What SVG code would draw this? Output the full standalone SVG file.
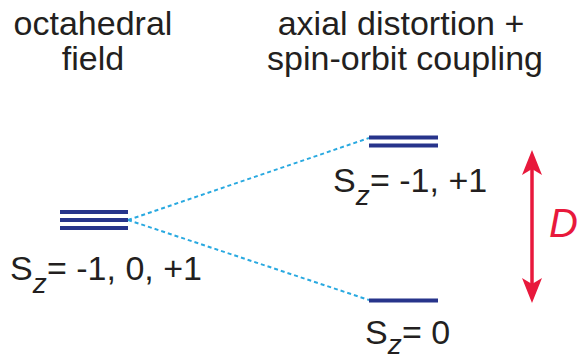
<svg xmlns="http://www.w3.org/2000/svg" width="580" height="361" viewBox="0 0 580 361">
<style>
.t{font-family:"Liberation Sans",Arial,sans-serif;font-size:34px;fill:#231f20}
.lvl{stroke:#27348b;stroke-width:4;fill:none}
.dash{stroke:#29a9e0;stroke-width:2;stroke-dasharray:4 3;fill:none}
.sub{font-style:italic;font-size:28px}
</style>
<defs>
<marker id="ah" markerUnits="userSpaceOnUse" markerWidth="25" markerHeight="20" viewBox="0 0 25 20" refX="6" refY="10" orient="auto-start-reverse">
<path d="M0,0 L25,10 L0,20 L6,10 Z" fill="#e8193c"/>
</marker>
</defs>
<rect width="580" height="361" fill="#ffffff"/>
<g id="title-left">
<text class="t" x="93" y="35" text-anchor="middle">octahedral</text>
<text class="t" x="93" y="70" text-anchor="middle">field</text>
</g>
<g id="title-right">
<text class="t" x="401" y="35" text-anchor="middle">axial distortion +</text>
<text class="t" x="405" y="70" text-anchor="middle">spin-orbit coupling</text>
</g>
<g id="connectors">
<line class="dash" x1="128" y1="220" x2="369" y2="138"/>
<line class="dash" x1="128" y1="220" x2="369" y2="300"/>
<line x1="532" y1="169" x2="532" y2="284" stroke="#e8193c" stroke-width="3.5" marker-start="url(#ah)" marker-end="url(#ah)"/>
</g>
<g id="node-octahedral">
<line class="lvl" x1="60" y1="212" x2="128" y2="212"/>
<line class="lvl" x1="60" y1="220" x2="128" y2="220"/>
<line class="lvl" x1="60" y1="228" x2="128" y2="228"/>
<text class="t" x="10" y="280">S<tspan class="sub" dy="13">z</tspan><tspan dy="-13" x="47">= -1, 0, +1</tspan></text>
</g>
<g id="node-upper">
<line class="lvl" x1="369" y1="137.5" x2="438" y2="137.5"/>
<line class="lvl" x1="369" y1="145.5" x2="438" y2="145.5"/>
<text class="t" x="333" y="192">S<tspan class="sub" dy="13">z</tspan><tspan dy="-13" x="370">= -1, +1</tspan></text>
</g>
<g id="node-lower">
<line class="lvl" x1="369" y1="300.5" x2="438" y2="300.5"/>
<text class="t" x="365" y="344">S<tspan class="sub" dy="10">z</tspan><tspan dy="-10" x="402">= 0</tspan></text>
</g>
<g id="label-D">
<text x="549" y="237" font-family="Liberation Sans,Arial,sans-serif" font-size="40" font-style="italic" fill="#e8193c">D</text>
</g>
</svg>
